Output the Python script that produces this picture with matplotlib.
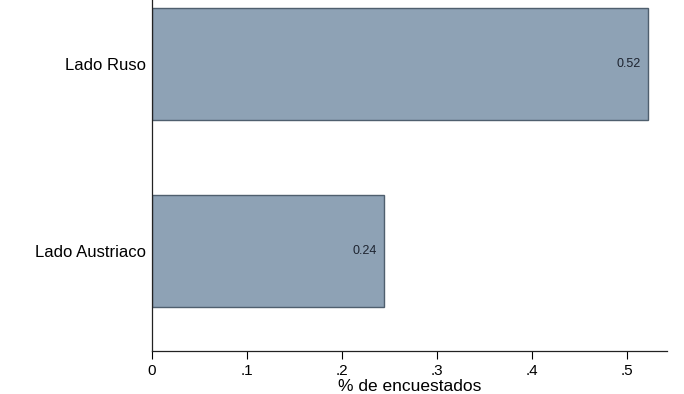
import matplotlib.pyplot as plt

plt.rcParams['font.family'] = ['Liberation Sans', 'DejaVu Sans']

categories = ['Lado Austriaco', 'Lado Ruso']
values = [0.244, 0.522]
value_labels = ['0.24', '0.52']
xticks = [0, 0.1, 0.2, 0.3, 0.4, 0.5]
xtick_labels = ['0', '.1', '.2', '.3', '.4', '.5']

fig = plt.figure(figsize=(6.84, 3.94), dpi=100)
ax = fig.add_axes([0.2222, 0.109, 0.7528, 0.891])

pos = list(range(len(categories)))
ax.barh(pos, values, height=0.6, color='#8ea2b5', edgecolor='#4f5f6e', linewidth=1.0)

for p, v, lab in zip(pos, values, value_labels):
    ax.text(v - 0.007, p, lab, ha='right', va='center', fontsize=9, color='#1e2430')

ax.set_xlim(0, 0.542)
ax.set_ylim(-0.535, 1.342)
ax.set_yticks(pos)
ax.set_yticklabels(categories, fontsize=12)
ax.set_xticks(xticks)
ax.set_xticklabels(xtick_labels, fontsize=11)
ax.tick_params(axis='y', length=0, pad=4)
ax.tick_params(axis='x', length=6, width=0.8, pad=3)
ax.set_xlabel('% de encuestados', fontsize=12.5, labelpad=1)

for s in ['top', 'right']:
    ax.spines[s].set_visible(False)
for s in ['left', 'bottom']:
    ax.spines[s].set_color('#222222')
    ax.spines[s].set_linewidth(0.9)

fig.savefig('out.png', dpi=100)
